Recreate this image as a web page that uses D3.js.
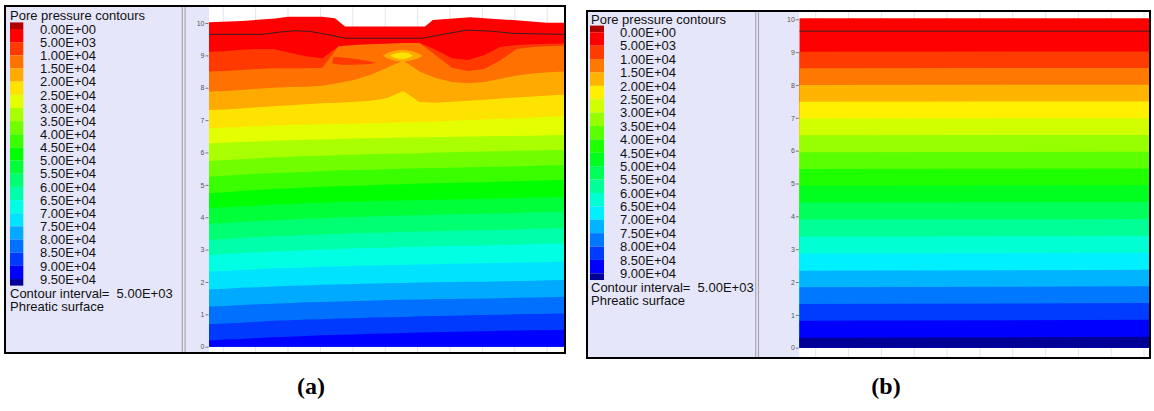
<!DOCTYPE html>
<html><head><meta charset="utf-8">
<script src="https://cdn.jsdelivr.net/npm/d3@7"></script>
<style>
body{margin:0;background:#fff;}
svg text{font-family:"Liberation Sans",Arial,sans-serif;}
svg text.caption{font-family:"Liberation Serif","Times New Roman",serif;font-weight:bold;}
</style></head><body>
<svg id="fig" width="1154" height="411"></svg>
<script>
// ---------- legend content ----------
const legendLabelsA = ["0.00E+00","5.00E+03","1.00E+04","1.50E+04","2.00E+04","2.50E+04","3.00E+04","3.50E+04","4.00E+04","4.50E+04","5.00E+04","5.50E+04","6.00E+04","6.50E+04","7.00E+04","7.50E+04","8.00E+04","8.50E+04","9.00E+04","9.50E+04"];
const legendLabelsB = ["0.00E+00","5.00E+03","1.00E+04","1.50E+04","2.00E+04","2.50E+04","3.00E+04","3.50E+04","4.00E+04","4.50E+04","5.00E+04","5.50E+04","6.00E+04","6.50E+04","7.00E+04","7.50E+04","8.00E+04","8.50E+04","9.00E+04"];
// one colour per interval between contour levels (below first level ... above last level)
const paletteA = ["#b00000","#ff0000","#ff3900","#ff7100","#ffaa00","#ffe300","#e3ff00","#aaff00","#71ff00","#39ff00","#00ff00","#00ff39","#00ff71","#00ffaa","#00ffe3","#00e3ff","#00aaff","#0071ff","#0039ff","#0000ff","#000096"];
const paletteB = ["#b00000","#ff0000","#ff3c00","#ff7800","#ffb400","#fff000","#d2ff00","#96ff00","#5aff00","#1eff00","#00ff1e","#00ff5a","#00ff96","#00ffd2","#00f0ff","#00b4ff","#0078ff","#003cff","#0000ff","#000096"];
const elevationTicks = [0,1,2,3,4,5,6,7,8,9,10];
const contourInterval = "5.00E+03";

// ---------- case (a): embankment with surface load ----------
const stationsA = [0,0.5,1,1.5,2,2.5,3,3.5,4,4.5,5,5.5,6,6.5,7,7.5,8,8.5,9,9.5,10,10.5,10.96];
const groundXA = [0,1.02,2.04,2.44,3.49,3.89,4.20,6.67,6.91,8.06,9.38,10.43,10.96];
const groundZA = [10.02,10.06,10.14,10.19,10.19,10.15,9.89,9.89,10.09,10.18,10.09,10.01,10.01];
const phreaticXA = [0,1.64,2.19,2.65,3.12,3.73,4.20,6.60,7.28,7.96,8.67,9.38,10.96];
const phreaticZA = [9.65,9.65,9.72,9.76,9.74,9.63,9.53,9.53,9.66,9.78,9.75,9.68,9.65];
// elevation of each contour line (5 kPa steps) at every station
const contourZA = [
 [9.11,9.13,9.17,9.20,9.20,9.08,8.97,8.91,9.28,9.32,9.34,9.36,9.38,9.38,9.17,8.91,8.86,9.01,9.27,9.32,9.34,9.36,9.37],
 [8.50,8.52,8.55,8.58,8.60,8.60,8.60,8.62,9.28,9.32,9.34,9.36,9.38,9.38,9.00,8.62,8.52,8.58,8.85,9.20,9.26,9.28,9.30],
 [7.88,7.90,7.93,7.97,8.00,8.02,8.03,8.06,8.15,8.25,8.40,8.62,8.84,8.50,8.30,8.18,8.14,8.18,8.28,8.38,8.44,8.48,8.50],
 [7.31,7.33,7.36,7.40,7.43,7.46,7.49,7.52,7.54,7.57,7.60,7.68,7.90,7.56,7.54,7.57,7.60,7.63,7.67,7.70,7.73,7.76,7.78],
 [6.75,6.77,6.79,6.81,6.83,6.85,6.86,6.87,6.88,6.89,6.90,6.91,6.93,6.94,6.96,6.98,7.00,7.02,7.04,7.06,7.08,7.10,7.12],
 [6.28,6.30,6.32,6.34,6.36,6.38,6.39,6.40,6.42,6.43,6.44,6.45,6.46,6.47,6.48,6.48,6.49,6.50,6.51,6.51,6.52,6.53,6.54],
 [5.74,5.77,5.79,5.82,5.85,5.87,5.89,5.90,5.92,5.93,5.95,5.96,5.97,5.98,6.00,6.01,6.02,6.03,6.04,6.05,6.06,6.07,6.08],
 [5.25,5.28,5.31,5.34,5.36,5.38,5.40,5.42,5.44,5.46,5.47,5.48,5.50,5.51,5.52,5.53,5.54,5.55,5.56,5.57,5.59,5.60,5.61],
 [4.74,4.77,4.81,4.84,4.87,4.89,4.92,4.94,4.96,4.97,4.99,5.01,5.02,5.04,5.05,5.06,5.07,5.08,5.10,5.11,5.13,5.14,5.15],
 [4.28,4.31,4.34,4.36,4.39,4.41,4.43,4.45,4.47,4.48,4.49,4.51,4.52,4.53,4.54,4.55,4.56,4.57,4.58,4.59,4.61,4.62,4.63],
 [3.79,3.82,3.85,3.88,3.91,3.93,3.95,3.97,3.99,4.01,4.02,4.04,4.05,4.06,4.08,4.09,4.10,4.11,4.12,4.13,4.15,4.16,4.17],
 [3.30,3.33,3.36,3.39,3.41,3.43,3.45,3.47,3.49,3.51,3.52,3.53,3.55,3.56,3.57,3.58,3.59,3.60,3.61,3.62,3.64,3.65,3.66],
 [2.83,2.86,2.89,2.92,2.94,2.96,2.98,3.00,3.02,3.04,3.05,3.06,3.08,3.09,3.10,3.11,3.12,3.13,3.14,3.15,3.17,3.18,3.19],
 [2.32,2.34,2.37,2.39,2.42,2.43,2.45,2.47,2.48,2.50,2.51,2.52,2.53,2.54,2.55,2.56,2.57,2.58,2.59,2.60,2.61,2.62,2.63],
 [1.77,1.79,1.82,1.84,1.86,1.88,1.89,1.91,1.92,1.94,1.95,1.96,1.97,1.98,1.99,2.00,2.01,2.01,2.02,2.03,2.04,2.05,2.06],
 [1.24,1.26,1.29,1.31,1.33,1.35,1.37,1.38,1.40,1.41,1.42,1.44,1.45,1.46,1.47,1.47,1.48,1.49,1.50,1.51,1.52,1.53,1.54],
 [0.69,0.72,0.74,0.77,0.80,0.82,0.84,0.85,0.87,0.88,0.90,0.91,0.92,0.94,0.95,0.96,0.97,0.98,0.99,1.00,1.01,1.02,1.03],
 [0.19,0.22,0.24,0.27,0.29,0.31,0.33,0.35,0.37,0.38,0.40,0.41,0.42,0.44,0.45,0.46,0.47,0.48,0.49,0.50,0.51,0.51,0.52]
];
// closed local zones: [x, z] outlines with the interval index they belong to
const lowPocketA = [[3.85,8.96],[4.2,8.93],[4.6,8.88],[4.95,8.82],[5.15,8.77],[4.95,8.73],[4.5,8.71],[4.1,8.71],[3.8,8.75]];
const highRingA = [[5.37,8.99],[5.55,9.10],[5.8,9.16],[6.05,9.17],[6.3,9.12],[6.5,9.04],[6.6,8.98],[6.45,8.90],[6.2,8.83],[5.95,8.80],[5.7,8.84],[5.5,8.91]];
const highCoreA = [[5.59,8.99],[5.75,9.06],[5.95,9.10],[6.15,9.07],[6.30,8.99],[6.15,8.92],[5.95,8.88],[5.75,8.92]];
const localZonesA = [
  {shape: lowPocketA, interval: 2},
  {shape: highRingA, interval: 4},
  {shape: highCoreA, interval: 5}
];

// ---------- case (b): level ground ----------
const stationsB = [0,10.65];
const groundZB = [10.03,10.03];
const phreaticZB = [9.64,9.64];
const contourZB = [
 [9.01,9.02],[8.51,8.52],[8.00,8.01],[7.49,7.50],[6.98,6.99],[6.47,6.48],[5.95,5.97],[5.44,5.46],[4.93,4.95],
 [4.42,4.44],[3.90,3.92],[3.38,3.40],[2.87,2.89],[2.34,2.37],[1.84,1.87],[1.33,1.36],[0.82,0.85],[0.30,0.33]
];

const svg = d3.select("#fig");
const LAV = "#e6e6fa";

function drawPanel(p) {
  const g = svg.append("g");
  // frame and lavender background
  g.append("rect").attr("x", p.left).attr("y", p.top).attr("width", p.right - p.left).attr("height", p.bottom - p.top)
    .attr("fill", LAV);
  // plot area
  g.append("rect").attr("x", p.plotL).attr("y", p.top).attr("width", p.plotR - p.plotL).attr("height", p.bottom - p.top)
    .attr("fill", "#fff");
  // separator between legend and axis
  [p.sep, p.sep + 2.8].forEach(x => g.append("line").attr("x1", x).attr("x2", x).attr("y1", p.top).attr("y2", p.bottom)
    .attr("stroke", "#a8a8b4").attr("stroke-width", 1.2));

  const x = d3.scaleLinear().domain(p.xDomain).range([p.plotL, p.plotR]);
  const y = d3.scaleLinear().domain([0, 10]).range([p.y0, p.y10]);

  // faint grid
  d3.range(p.gridStart, p.xDomain[1], 1).forEach(v => g.append("line")
    .attr("x1", x(v)).attr("x2", x(v)).attr("y1", p.top).attr("y2", p.bottom)
    .attr("stroke", "#e6e6ec").attr("stroke-width", 1));

  const clipId = "clip" + p.id;
  g.append("clipPath").attr("id", clipId).append("rect")
    .attr("x", p.plotL).attr("y", p.top).attr("width", p.plotR - p.plotL).attr("height", p.bottom - p.top);
  const fld = g.append("g").attr("clip-path", `url(#${clipId})`);

  const area = d3.area().x(d => x(d[0])).y0(y(0)).y1(d => y(d[1])).curve(d3.curveLinear);
  // ground surface down to base, first interval colour
  fld.append("path").attr("d", area(d3.zip(p.groundX, p.groundZ))).attr("fill", p.palette[1]);
  // each contour line fills the next interval below it
  p.contours.forEach((zs, k) => {
    fld.append("path").attr("d", area(d3.zip(p.stations, zs))).attr("fill", p.palette[k + 2]);
  });
  (p.zones || []).forEach(z => {
    fld.append("path").attr("d", d3.line().x(d => x(d[0])).y(d => y(d[1]))(z.shape) + "Z")
      .attr("fill", p.palette[z.interval]);
  });
  // phreatic surface
  fld.append("path").attr("d", d3.line().x(d => x(d[0])).y(d => y(d[1]))(d3.zip(p.phreaticX, p.phreaticZ)))
    .attr("fill", "none").attr("stroke", "#222").attr("stroke-width", 0.9);

  // elevation axis
  const ax = g.append("g").attr("transform", `translate(${p.plotL - 0.5},0)`)
    .call(d3.axisLeft(y).tickValues(elevationTicks).tickSize(3).tickPadding(1).tickFormat(d3.format("d")));
  ax.select(".domain").remove();
  ax.selectAll(".tick line").attr("stroke", "#777");
  ax.selectAll(".tick text").attr("font-size", 7).attr("fill", "#555");

  // legend
  const lg = g.append("g");
  lg.append("text").attr("x", p.textL).attr("y", p.titleC + 4.7).attr("font-size", 13).attr("fill", "#111")
    .text("Pore pressure contours");
  const cy = i => p.row0 + p.rowH * i;
  const n = p.labels.length;
  const edges = [cy(0) - p.rowH / 2].concat(d3.range(n).map(cy), [cy(n - 1) + p.rowH / 2]);
  p.palette.forEach((c, i) => {
    lg.append("rect").attr("x", p.swL).attr("y", edges[i]).attr("width", p.swW)
      .attr("height", edges[i + 1] - edges[i]).attr("fill", c);
  });
  lg.selectAll(".lab").data(p.labels).enter().append("text")
    .attr("x", p.valL).attr("y", (d, i) => cy(i) + 4.7).attr("font-size", 13).attr("fill", "#111").text(d => d);
  lg.append("text").attr("x", p.textL).attr("y", cy(n - 1) + p.rowH + 0.6 + 4.7).attr("font-size", 13)
    .attr("fill", "#111").style("white-space", "pre").text("Contour interval=  " + contourInterval);
  lg.append("text").attr("x", p.textL).attr("y", cy(n - 1) + 2 * p.rowH + 0.6 + 4.7).attr("font-size", 13)
    .attr("fill", "#111").text("Phreatic surface");

  // outer frame
  g.append("rect").attr("x", p.left).attr("y", p.top).attr("width", p.right - p.left).attr("height", p.bottom - p.top)
    .attr("fill", "none").attr("stroke", "#000").attr("stroke-width", 2);

  svg.append("text").attr("class", "caption").attr("x", p.capX).attr("y", 394).attr("text-anchor", "middle")
    .attr("font-size", 24).attr("fill", "#000").text(p.caption);
}

drawPanel({
  id: "a", left: 5, right: 565, top: 6, bottom: 353, sep: 182.3, plotL: 209, plotR: 564,
  xDomain: [0, 10.96], gridStart: 0.44, y0: 346.7, y10: 23.0,
  stations: stationsA, contours: contourZA, groundX: groundXA, groundZ: groundZA,
  phreaticX: phreaticXA, phreaticZ: phreaticZA, zones: localZonesA,
  palette: paletteA, labels: legendLabelsA,
  textL: 10, valL: 40, swL: 10, swW: 13.3, titleC: 15.7, row0: 29, rowH: 13.16,
  capX: 311, caption: "(a)"
});

drawPanel({
  id: "b", left: 587, right: 1150, top: 11, bottom: 358, sep: 755.7, plotL: 799.3, plotR: 1149,
  xDomain: [0, 10.65], gridStart: 0.5, y0: 347.7, y10: 19.3,
  stations: stationsB, contours: contourZB, groundX: stationsB, groundZ: groundZB,
  phreaticX: stationsB, phreaticZ: phreaticZB, zones: [],
  palette: paletteB, labels: legendLabelsB,
  textL: 591, valL: 620, swL: 590, swW: 14, titleC: 19, row0: 32.3, rowH: 13.39,
  capX: 886, caption: "(b)"
});
</script>
</body></html>
